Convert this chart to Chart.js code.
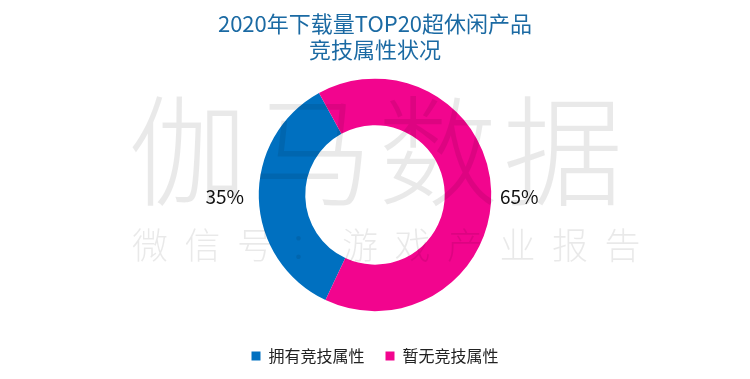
<!DOCTYPE html>
<html>
<head>
<meta charset="utf-8">
<script src="https://cdn.jsdelivr.net/npm/chart.js@4"></script>
<style>
  html, body { margin: 0; padding: 0; background: #fff; }
  #wrap { width: 750px; height: 379px; }
</style>
</head>
<body>
<div id="wrap"><canvas id="chart"></canvas></div>
<script>
const categorias = ['拥有竞技属性', '暂无竞技属性'];
const porcentajes = [35, 65];
const colores = ['#0070C0', '#F2058E'];
const titulo = ['2020年下载量TOP20超休闲产品', '竞技属性状况'];
const marcaAgua = '伽马数据';
const marcaAguaSub = '微信号：游戏产业报告';

const fuente = '"Noto Sans CJK SC", "Noto Sans", sans-serif';

// watermark drawn over everything, very light
const marcaPlugin = {
  id: 'marca',
  afterDraw(chart) {
    const ctx = chart.ctx;
    ctx.save();
    ctx.fillStyle = 'rgba(0,0,0,0.085)';
    ctx.textBaseline = 'middle';
    ctx.textAlign = 'center';
    ctx.font = '300 120px ' + fuente;
    [...marcaAgua].forEach((c, i) => ctx.fillText(c, 188 + i * 125, 151));
    ctx.font = '300 36px ' + fuente;
    [...marcaAguaSub].forEach((c, i) => ctx.fillText(c, 150 + i * 52.5, 245));
    ctx.restore();
  }
};

// percent labels outside the ring, level with the centre
const etiquetasPlugin = {
  id: 'etiquetas',
  afterDatasetsDraw(chart) {
    const ctx = chart.ctx;
    const meta = chart.getDatasetMeta(0);
    ctx.save();
    ctx.fillStyle = '#111';
    ctx.font = '19px ' + fuente;
    ctx.textAlign = 'center';
    ctx.textBaseline = 'middle';
    meta.data.forEach((arc, i) => {
      const p = arc.getProps(['x', 'y', 'startAngle', 'endAngle', 'outerRadius'], true);
      const mid = (p.startAngle + p.endAngle) / 2;
      const lado = Math.cos(mid) < 0 ? -1 : 1;
      const r = p.outerRadius + (lado < 0 ? 34 : 28);
      ctx.fillText(porcentajes[i] + '%', p.x + lado * r, p.y + 2);
    });
    ctx.restore();
  }
};

new Chart(document.getElementById('chart'), {
  type: 'doughnut',
  data: {
    labels: categorias,
    datasets: [{ data: porcentajes, backgroundColor: colores, borderWidth: 0 }]
  },
  options: {
    responsive: true,
    maintainAspectRatio: false,
    animation: false,
    cutout: '60%',
    radius: '88%',
    rotation: 205.2,
    layout: { padding: { top: 10, bottom: 5 } },
    plugins: {
      title: {
        display: true,
        text: titulo,
        color: '#1B6AA3',
        font: { family: fuente, size: 22, weight: 'normal', lineHeight: 1.2 },
        padding: { top: 0, bottom: 0 }
      },
      legend: {
        position: 'bottom',
        labels: {
          boxWidth: 9, boxHeight: 9, padding: 21,
          color: '#222',
          font: { family: fuente, size: 16 }
        }
      },
      tooltip: { enabled: false }
    }
  },
  plugins: [etiquetasPlugin, marcaPlugin]
});
</script>
</body>
</html>
